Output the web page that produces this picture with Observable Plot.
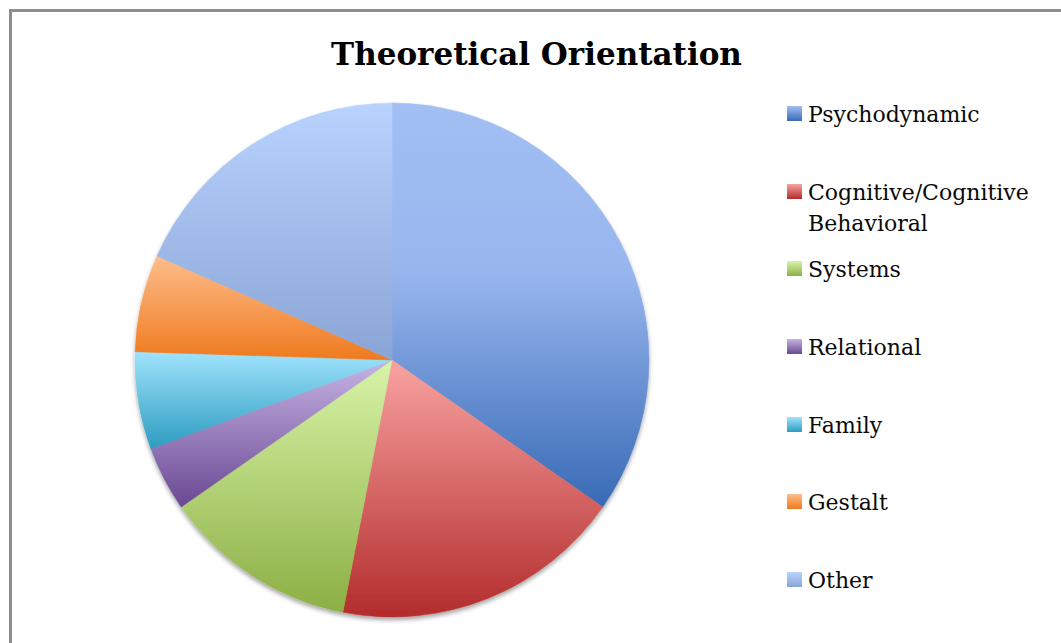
<!DOCTYPE html>
<html>
<head>
<meta charset="utf-8">
<script src="https://cdn.jsdelivr.net/npm/d3@7"></script>
<script src="https://cdn.jsdelivr.net/npm/@observablehq/plot@0.6"></script>
<style>
html, body { margin: 0; padding: 0; background: #fff; }
#wrap { position: relative; width: 1061px; height: 643px; overflow: hidden; background: #fff; }
#frame { position: absolute; left: 9px; top: 9px; width: 1300px; height: 900px; border: 3px solid #8e8e8e; box-sizing: border-box; }
#chart { position: absolute; left: 0; top: 0; }
#title { position: absolute; left: 0; width: 1073px; top: 36px; text-align: center; font-family: "DejaVu Serif", serif; font-weight: bold; font-size: 31px; line-height: 36px; color: #000; white-space: nowrap; }
.item { position: absolute; left: 787px; width: 260px; }
.sw { position: absolute; left: 0; top: 7px; width: 15px; height: 15px; }
.lab { position: absolute; left: 21px; top: 0; width: 240px; font-family: "DejaVu Serif", serif; font-size: 22px; line-height: 31px; color: #0a0a0a; }
</style>
</head>
<body>
<div id="wrap">
  <div id="frame"></div>
  <div id="chart"></div>
  <div id="title">Theoretical Orientation</div>
  <div id="legend"></div>
</div>
<script>
// ---- data ----
const categories = ["Psychodynamic", "Cognitive/Cognitive Behavioral", "Systems", "Relational", "Family", "Gestalt", "Other"];
const counts = [17, 9, 6, 2, 3, 3, 9];
const topColors = ["#a2bff4", "#f8a3a1", "#d8f4a8", "#c6b4e4", "#a0e3fd", "#fdbd8b", "#b9d3ff"];
const midColors = ["#98b6ee", null, null, null, null, null, null];
const bottomColors = ["#386ab6", "#b32c2c", "#8caf44", "#6a4893", "#2c9cc0", "#ef7a1e", "#8aa5d5"];

const data = categories.map((c, i) => ({category: c, count: counts[i], i}));
const arcs = d3.pie().sort(null).value(d => d.count)(data);

function pieMark(...args) {
  const scales = args.find(a => a && typeof a.x === "function" && typeof a.y === "function");
  const g = d3.create("svg:g");
  const defs = g.append("defs");
  const f = defs.append("filter").attr("id", "pieshadow")
    .attr("x", "-10%").attr("y", "-10%").attr("width", "120%").attr("height", "120%");
  f.append("feDropShadow").attr("dx", 0).attr("dy", 3).attr("stdDeviation", 2.2)
    .attr("flood-color", "#000").attr("flood-opacity", 0.35);
  arcs.forEach((a, i) => {
    const lg = defs.append("linearGradient").attr("id", "grad" + i)
      .attr("x1", 0).attr("y1", 0).attr("x2", 0).attr("y2", 1);
    lg.append("stop").attr("offset", "0%").attr("stop-color", topColors[i]);
    if (midColors[i]) lg.append("stop").attr("offset", "42%").attr("stop-color", midColors[i]);
    lg.append("stop").attr("offset", "100%").attr("stop-color", bottomColors[i]);
  });
  const cx = scales.x(0), cy = scales.y(0), r = scales.x(1) - scales.x(0);
  const arc = d3.arc().innerRadius(0).outerRadius(r);
  g.append("g").attr("transform", `translate(${cx},${cy})`).attr("filter", "url(#pieshadow)")
    .selectAll("path").data(arcs).join("path")
    .attr("d", arc)
    .attr("fill", (d, i) => `url(#grad${i})`)
    .attr("stroke", (d, i) => `url(#grad${i})`)
    .attr("stroke-width", 0.5);
  return g.node();
}

const cx = 392, cy = 360, R = 257;
const chart = Plot.plot({
  width: 1061,
  height: 643,
  margin: 0,
  style: {background: "transparent", overflow: "visible"},
  x: {domain: [-1, 1], range: [cx - R, cx + R], axis: null},
  y: {domain: [-1, 1], range: [cy + R, cy - R], axis: null},
  marks: [
    Plot.dot([-1, 1], {x: d => d, y: d => d, r: 0, fill: "none", stroke: "none"}),
    pieMark
  ]
});
document.getElementById("chart").appendChild(chart);

// ---- legend ----
const legend = document.getElementById("legend");
categories.forEach((c, i) => {
  const it = document.createElement("div");
  it.className = "item";
  it.style.top = (98.9 + i * 77.7) + "px";
  const sw = document.createElement("div");
  sw.className = "sw";
  sw.style.background = `linear-gradient(to bottom, ${topColors[i]}, ${bottomColors[i]})`;
  const lab = document.createElement("div");
  lab.className = "lab";
  lab.textContent = c;
  it.appendChild(sw);
  it.appendChild(lab);
  legend.appendChild(it);
});
</script>
</body>
</html>
